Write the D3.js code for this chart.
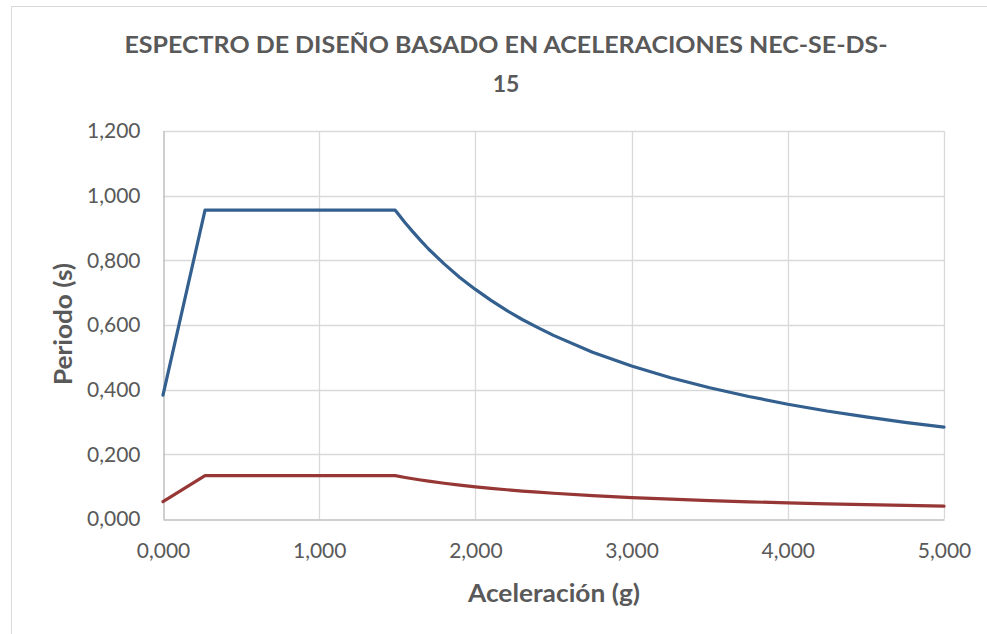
<!DOCTYPE html>
<html>
<head>
<meta charset="utf-8">
<script src="https://cdn.jsdelivr.net/npm/d3@7"></script>
<style>
  html, body { margin: 0; padding: 0; background: #fff; }
  svg { display: block; }
</style>
</head>
<body>
<svg id="chart" width="987" height="634"></svg>
<script>
// Periodo / aceleración pairs for the two spectra
const xValues = [0, 0.269, 1.487, 1.55, 1.6, 1.65, 1.7, 1.8, 1.9, 2.0, 2.1, 2.2, 2.3, 2.4, 2.5, 2.75, 3.0, 3.25, 3.5, 3.75, 4.0, 4.25, 4.5, 4.75, 5.0];
const seriesBlue = [0.383, 0.955, 0.955, 0.916, 0.888, 0.861, 0.835, 0.789, 0.747, 0.710, 0.676, 0.645, 0.617, 0.592, 0.568, 0.516, 0.473, 0.437, 0.406, 0.379, 0.355, 0.334, 0.316, 0.299, 0.284];
const seriesRed  = [0.054, 0.134, 0.134, 0.1284, 0.1244, 0.1206, 0.1171, 0.1106, 0.1047, 0.0995, 0.0948, 0.0905, 0.0865, 0.0829, 0.0796, 0.0724, 0.0663, 0.0612, 0.0569, 0.0531, 0.0498, 0.0468, 0.0442, 0.0419, 0.0398];
const xTicks = [0, 1, 2, 3, 4, 5];
const yTicks = [0, 0.2, 0.4, 0.6, 0.8, 1.0, 1.2];
const titleLines = ["ESPECTRO DE DISEÑO BASADO EN ACELERACIONES NEC-SE-DS-", "15"];
const xTitle = "Aceleración (g)";
const yTitle = "Periodo (s)";

const svg = d3.select("#chart");
const plot = { left: 163, right: 944, top: 131, bottom: 519 };
const textColor = "#595959";
const font = "Lato, 'Open Sans', sans-serif";

// outer chart frame
svg.append("rect")
  .attr("x", 11.5).attr("y", 6.5)
  .attr("width", 1000).attr("height", 700)
  .attr("fill", "#fff").attr("stroke", "#d9d9d9").attr("stroke-width", 1);

const x = d3.scaleLinear().domain([0, 5]).range([plot.left, plot.right]);
const y = d3.scaleLinear().domain([0, 1.2]).range([plot.bottom, plot.top]);

// comma as decimal separator, three decimals
const fmt = v => d3.format(".3f")(v).replace(".", ",");

// gridlines
const grid = svg.append("g");
grid.selectAll("line.h").data(yTicks.filter(d => d > 0)).join("line")
  .attr("x1", plot.left).attr("x2", plot.right)
  .attr("y1", d => Math.round(y(d)) + 0.5).attr("y2", d => Math.round(y(d)) + 0.5)
  .attr("stroke", "#d9d9d9").attr("stroke-width", 1.3);
grid.selectAll("line.v").data(xTicks.filter(d => d > 0)).join("line")
  .attr("y1", plot.top).attr("y2", plot.bottom)
  .attr("x1", d => Math.round(x(d)) + 0.5).attr("x2", d => Math.round(x(d)) + 0.5)
  .attr("stroke", "#d9d9d9").attr("stroke-width", 1.3);

// axes
const xAxis = d3.axisBottom(x).tickValues(xTicks).tickFormat(fmt).tickSize(0).tickPadding(24);
const yAxis = d3.axisLeft(y).tickValues(yTicks).tickFormat(fmt).tickSize(0).tickPadding(23);

const gx = svg.append("g").attr("transform", `translate(0,${plot.bottom + 0.5})`).call(xAxis);
const gy = svg.append("g").attr("transform", `translate(${plot.left + 0.5},0)`).call(yAxis);
[gx, gy].forEach(g => {
  g.select(".domain").attr("stroke", "#bfbfbf").attr("stroke-width", 1.5);
  g.selectAll("text").attr("fill", textColor).attr("font-family", font).attr("font-size", 21);
});
gx.selectAll("text").attr("dy", "0.32em").attr("y", 32);

// spectra
const line = d3.line().x(d => x(d[0])).y(d => y(d[1])).curve(d3.curveLinear);
svg.append("path")
  .datum(xValues.map((v, i) => [v, seriesRed[i]]))
  .attr("d", line).attr("fill", "none")
  .attr("stroke", "#963735").attr("stroke-width", 3.2)
  .attr("stroke-linejoin", "round").attr("stroke-linecap", "round");
svg.append("path")
  .datum(xValues.map((v, i) => [v, seriesBlue[i]]))
  .attr("d", line).attr("fill", "none")
  .attr("stroke", "#33608f").attr("stroke-width", 3.2)
  .attr("stroke-linejoin", "round").attr("stroke-linecap", "round");

// chart title
svg.append("text")
  .attr("x", 506).attr("y", 53)
  .attr("text-anchor", "middle")
  .attr("font-family", font).attr("font-weight", 700).attr("font-size", 23)
  .attr("fill", textColor)
  .attr("textLength", 763).attr("lengthAdjust", "spacingAndGlyphs")
  .text(titleLines[0]);
svg.append("text")
  .attr("x", 506).attr("y", 92)
  .attr("text-anchor", "middle")
  .attr("font-family", font).attr("font-weight", 700).attr("font-size", 23)
  .attr("fill", textColor)
  .text(titleLines[1]);

// axis titles
svg.append("text")
  .attr("x", 554).attr("y", 602)
  .attr("text-anchor", "middle")
  .attr("font-family", font).attr("font-weight", 700).attr("font-size", 24)
  .attr("fill", textColor)
  .attr("textLength", 172).attr("lengthAdjust", "spacingAndGlyphs")
  .text(xTitle);
svg.append("text")
  .attr("transform", "translate(72,324) rotate(-90)")
  .attr("text-anchor", "middle")
  .attr("font-family", font).attr("font-weight", 700).attr("font-size", 24)
  .attr("fill", textColor)
  .attr("textLength", 122).attr("lengthAdjust", "spacingAndGlyphs")
  .text(yTitle);
</script>
</body>
</html>
